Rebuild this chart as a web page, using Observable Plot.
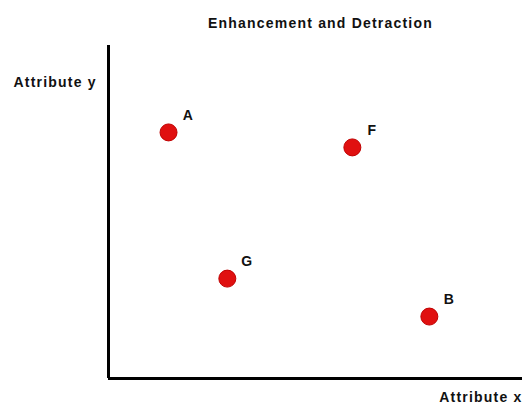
<!DOCTYPE html>
<html>
<head>
<meta charset="utf-8">
<script src="https://cdn.jsdelivr.net/npm/d3@7"></script>
<script src="https://cdn.jsdelivr.net/npm/@observablehq/plot@0.6"></script>
<style>
  body { margin: 0; background: #fff; }
  svg { font-family: "Liberation Sans", Arial, sans-serif; }
  svg text { letter-spacing: 1.2px; }
</style>
</head>
<body>
<div id="chart"></div>
<script>
const names = ["A", "F", "G", "B"];
const xValues = [14.5, 58.9, 28.7, 77.5];
const yValues = [73.9, 69.4, 30.0, 18.6];
const title = "Enhancement and Detraction";
const xLabel = "Attribute x";
const yLabel = "Attribute y";

const data = names.map((n, i) => ({ name: n, x: xValues[i], y: yValues[i] }));

const chart = Plot.plot({
  width: 526,
  height: 415,
  marginLeft: 108,
  marginRight: 4,
  marginTop: 45,
  marginBottom: 37,
  x: { domain: [0, 100], axis: null },
  y: { domain: [0, 100], axis: null },
  style: { background: "#fff", fontFamily: "'Liberation Sans', Arial, sans-serif" },
  marks: [
    Plot.ruleX([0], { stroke: "#000", strokeWidth: 3 }),
    Plot.ruleY([0], { stroke: "#000", strokeWidth: 3 }),
    Plot.dot(data, { x: "x", y: "y", r: 8.5, fill: "#e01010", stroke: "#c00000", strokeWidth: 1 }),
    Plot.text(data, { x: "x", y: "y", text: "name", dx: 20, dy: -17, fontSize: 14, fontWeight: "bold", fill: "#111" }),
    Plot.text([title], { frameAnchor: "top", dx: 5, dy: -27, fontSize: 14, fontWeight: "bold", fill: "#111" }),
    Plot.text([yLabel], { frameAnchor: "top-left", textAnchor: "start", dx: -95, dy: 32, fontSize: 14, fontWeight: "bold", fill: "#111" }),
    Plot.text([xLabel], { frameAnchor: "bottom-right", textAnchor: "end", dx: 0, dy: 23, fontSize: 14, fontWeight: "bold", fill: "#111" })
  ]
});
document.getElementById("chart").appendChild(chart);
</script>
</body>
</html>
